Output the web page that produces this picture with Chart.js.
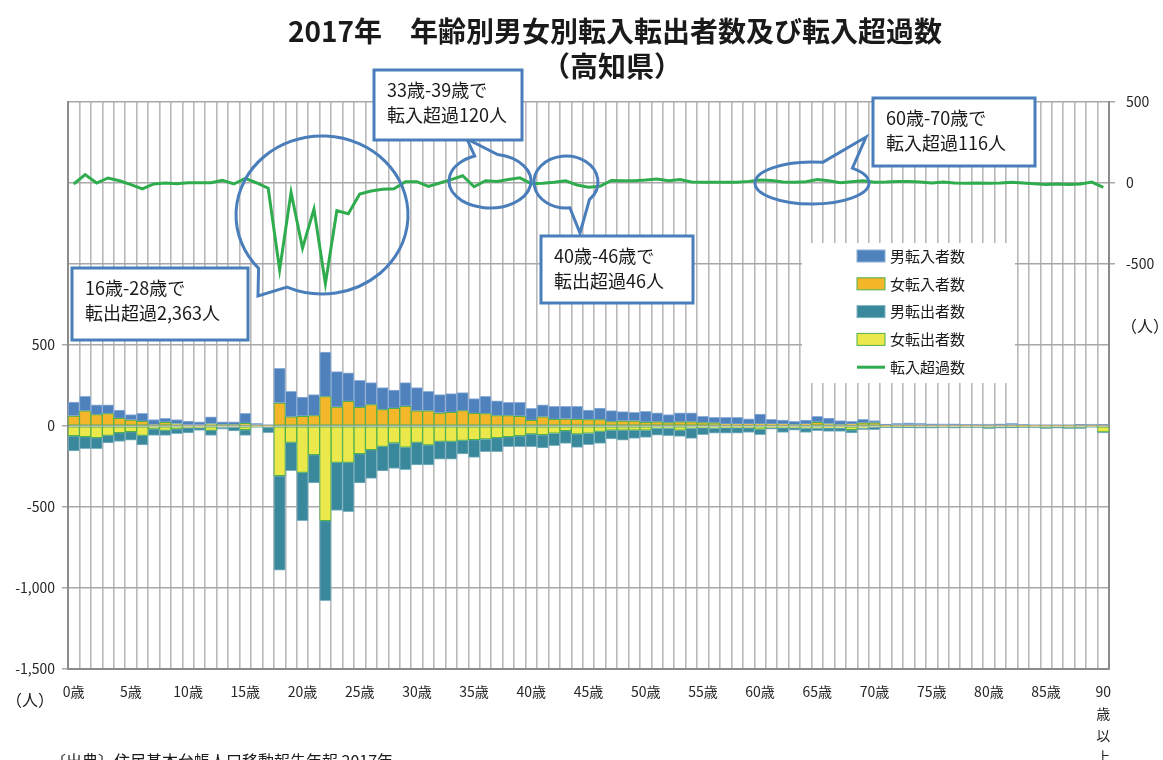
<!DOCTYPE html>
<html lang="ja">
<head>
<meta charset="utf-8">
<title>2017年 年齢別男女別転入転出者数及び転入超過数（高知県）</title>
<script src="https://cdn.jsdelivr.net/npm/chart.js@4.4.1/dist/chart.umd.min.js"></script>
<style>
  html, body { margin: 0; padding: 0; background: #fff; }
  #wrap { position: relative; width: 1163px; height: 760px; }
</style>
</head>
<body>
<div id="wrap"><canvas id="migrationChart" width="1163" height="760"></canvas></div>
<script>
// age categories 0..90 (90 = 90歳以上)
const ageLabels = [
  '0歳','1歳','2歳','3歳','4歳','5歳','6歳','7歳','8歳','9歳',
  '10歳','11歳','12歳','13歳','14歳','15歳','16歳','17歳','18歳','19歳',
  '20歳','21歳','22歳','23歳','24歳','25歳','26歳','27歳','28歳','29歳',
  '30歳','31歳','32歳','33歳','34歳','35歳','36歳','37歳','38歳','39歳',
  '40歳','41歳','42歳','43歳','44歳','45歳','46歳','47歳','48歳','49歳',
  '50歳','51歳','52歳','53歳','54歳','55歳','56歳','57歳','58歳','59歳',
  '60歳','61歳','62歳','63歳','64歳','65歳','66歳','67歳','68歳','69歳',
  '70歳','71歳','72歳','73歳','74歳','75歳','76歳','77歳','78歳','79歳',
  '80歳','81歳','82歳','83歳','84歳','85歳','86歳','87歳','88歳','89歳',
  '90歳以上'
];

// labels shown under the axis (every 5 years)
const ageTickLabels = ['0歳','5歳','10歳','15歳','20歳','25歳','30歳','35歳','40歳',
  '45歳','50歳','55歳','60歳','65歳','70歳','75歳','80歳','85歳',['90','歳','以','上']];

// 男転入者数
const maleIn = [86,90,60,54,52,33,49,31,24,25,
  25,19,42,17,17,62,10,5,214,158,
  119,130,276,219,176,167,136,136,113,146,
  144,121,114,116,111,91,107,91,82,86,
  74,74,81,79,81,60,72,68,58,53,
  68,57,49,57,57,39,35,42,42,33,
  62,29,25,21,25,37,35,25,17,22,
  14,8,10,14,12,8,10,8,6,6,
  6,8,10,6,4,4,4,4,4,6,
  4];

// 女転入者数
const femaleIn = [62,93,70,76,47,37,29,8,23,14,
  6,6,14,8,8,16,6,3,142,56,
  60,64,181,117,152,115,132,101,109,122,
  93,93,80,84,95,78,76,64,64,60,
  35,56,41,43,41,39,39,27,31,31,
  23,25,21,25,25,21,19,12,12,12,
  12,12,12,8,12,23,14,8,12,19,
  19,4,6,6,6,6,4,6,4,6,
  6,6,6,4,4,4,4,4,6,6,
  6];

// 男転出者数
const maleOut = [94,74,68,47,54,52,59,40,31,29,
  33,17,31,13,25,35,4,35,583,175,
  299,175,494,296,304,181,177,152,157,140,
  140,124,109,109,84,110,79,87,62,68,
  79,82,77,78,83,70,74,55,62,51,
  45,42,46,39,62,44,31,35,35,29,
  35,9,29,15,25,15,21,21,20,11,
  17,6,8,8,8,8,6,8,6,6,
  8,8,8,6,6,8,8,8,8,4,
  6];

// 女転出者数
const femaleOut = [60,66,72,58,41,35,58,18,27,18,
  10,10,27,6,6,23,4,6,307,101,
  286,177,584,225,225,171,146,126,105,130,
  101,117,95,95,89,84,80,72,66,60,
  49,54,45,29,49,45,33,25,25,25,
  25,14,14,25,14,10,14,10,10,10,
  19,10,10,10,14,14,12,12,23,12,
  6,4,4,4,6,6,6,6,6,6,
  8,6,4,4,6,8,6,8,8,4,
  37];

// 転入超過数
const netMigration = [-6,52,0,31,14,-10,-37,-6,0,-4,
  2,2,2,16,-6,29,0,-32,-535,-58,
  -402,-161,-622,-171,-190,-68,-49,-39,-36,8,
  8,-21,0,21,45,-23,14,10,21,32,
  -4,-2,4,14,-12,-26,-20,16,14,14,
  18,25,14,22,6,4,4,4,4,10,
  18,16,6,4,8,22,14,2,8,14,
  4,6,10,10,6,0,6,0,-2,0,
  -2,0,4,0,-4,-10,-6,-10,-6,6,
  -27];

const JP = "'Noto Sans CJK JP', 'Noto Sans', sans-serif";
const BLUE = '#4f81bd';
const ORANGE = '#f4b72a';
const TEAL = '#3a889b';
const YELLOW = '#ebe84c';
const GREEN = '#2fad4e';
const CALLOUT = '#4a7ebb';

Chart.defaults.font.family = JP;
Chart.defaults.font.size = 14;
Chart.defaults.color = '#262626';

// legend entries in the order of the original chart
const legendItems = [
  { label: '男転入者数', color: BLUE, border: '#8fb0d8', type: 'bar' },
  { label: '女転入者数', color: ORANGE, border: '#4fb04a', type: 'bar' },
  { label: '男転出者数', color: TEAL, border: '#7fb3c0', type: 'bar' },
  { label: '女転出者数', color: YELLOW, border: '#4fb04a', type: 'bar' },
  { label: '転入超過数', color: GREEN, type: 'line' }
];

// speech bubble callouts: ellipse + wedge, and text box
const callouts = [
  { cx: 322, cy: 215, rx: 86, ry: 79, a1: 2.40, a2: 1.99, tip: [258, 296],
    box: [72, 268, 176, 72], lines: ['16歳-28歳で', '転出超過2,363人'] },
  { cx: 490, cy: 181, rx: 41, ry: 27, a1: 4.90, a2: 4.33, tip: [467, 139],
    box: [374, 70, 148, 70], lines: ['33歳-39歳で', '転入超過120人'] },
  { cx: 566, cy: 182, rx: 32, ry: 26, a1: 1.45, a2: 0.75, tip: [580, 233],
    box: [541, 236, 152, 67], lines: ['40歳-46歳で', '転出超過46人'] },
  { cx: 812, cy: 183, rx: 57, ry: 21, a1: 5.50, a2: 4.90, tip: [866, 137],
    box: [873, 98, 162, 68], lines: ['60歳-70歳で', '転入超過116人'] }
];

const overlayPlugin = {
  id: 'overlay',
  afterDraw(chart) {
    const ctx = chart.ctx;
    ctx.save();

    // title
    ctx.fillStyle = '#1a1a1a';
    ctx.textAlign = 'center';
    ctx.textBaseline = 'middle';
    ctx.font = 'bold 28px ' + JP;
    ctx.fillText('2017年　年齢別男女別転入転出者数及び転入超過数', 615, 31);
    ctx.fillText('（高知県）', 612, 66);

    // callouts
    callouts.forEach(c => {
      ctx.beginPath();
      ctx.ellipse(c.cx, c.cy, c.rx, c.ry, 0, c.a1, c.a2 + Math.PI * 2);
      ctx.lineTo(c.tip[0], c.tip[1]);
      ctx.closePath();
      ctx.lineWidth = 3;
      ctx.strokeStyle = CALLOUT;
      ctx.stroke();

      const [bx, by, bw, bh] = c.box;
      ctx.fillStyle = '#fff';
      ctx.fillRect(bx, by, bw, bh);
      ctx.strokeRect(bx, by, bw, bh);
      ctx.fillStyle = '#1a1a1a';
      ctx.textAlign = 'left';
      ctx.textBaseline = 'middle';
      ctx.font = '18px ' + JP;
      ctx.fillText(c.lines[0], bx + 13, by + 20);
      ctx.fillText(c.lines[1], bx + 13, by + 45);
    });

    // legend
    ctx.fillStyle = '#fff';
    ctx.fillRect(802, 243, 213, 140);
    ctx.font = '15px ' + JP;
    ctx.textAlign = 'left';
    ctx.textBaseline = 'middle';
    legendItems.forEach((item, i) => {
      const y = 256 + i * 27.8;
      if (item.type === 'bar') {
        ctx.fillStyle = item.color;
        ctx.fillRect(857, y - 6, 28, 12);
        ctx.lineWidth = 1;
        ctx.strokeStyle = item.border;
        ctx.strokeRect(857, y - 6, 28, 12);
      } else {
        ctx.beginPath();
        ctx.moveTo(857, y);
        ctx.lineTo(885, y);
        ctx.lineWidth = 3;
        ctx.strokeStyle = item.color;
        ctx.stroke();
      }
      ctx.fillStyle = '#1a1a1a';
      ctx.fillText(item.label, 890, y);
    });

    // units and source
    ctx.font = '16px ' + JP;
    ctx.fillText('（人）', 6, 700);
    ctx.fillText('（人）', 1121, 326);
    ctx.textBaseline = 'top';
    ctx.fillText('〔出典〕住民基本台帳人口移動報告年報 2017年', 50, 753);

    ctx.restore();
  }
};

const ctx = document.getElementById('migrationChart').getContext('2d');
const migrationChart = new Chart(ctx, {
  data: {
    labels: ageLabels,
    datasets: [
      // stacking order: female first so they sit next to zero
      { type: 'bar', label: '女転入者数', data: femaleIn, backgroundColor: ORANGE,
        borderColor: '#4fb04a', borderWidth: 1, borderSkipped: false },
      { type: 'bar', label: '男転入者数', data: maleIn, backgroundColor: BLUE,
        borderColor: '#8fb0d8', borderWidth: 1, borderSkipped: false },
      { type: 'bar', label: '女転出者数', data: femaleOut.map(v => -v), backgroundColor: YELLOW,
        borderColor: '#4fb04a', borderWidth: 1, borderSkipped: false },
      { type: 'bar', label: '男転出者数', data: maleOut.map(v => -v), backgroundColor: TEAL,
        borderColor: '#7fb3c0', borderWidth: 1, borderSkipped: false },
      { type: 'line', label: '転入超過数', data: netMigration, yAxisID: 'y2',
        borderColor: GREEN, borderWidth: 3, pointRadius: 0, tension: 0, fill: false }
    ]
  },
  options: {
    responsive: false,
    animation: false,
    layout: { padding: { top: 102, left: 0, right: 0, bottom: 0 } },
    datasets: { bar: { barPercentage: 1, categoryPercentage: 1 } },
    plugins: {
      legend: { display: false },
      title: { display: false },
      tooltip: { enabled: false }
    },
    scales: {
      x: {
        stacked: true,
        grid: { offset: true, color: '#b9b9b9', lineWidth: 1.6, drawTicks: false },
        border: { color: '#8c8c8c', width: 2 },
        ticks: {
          autoSkip: false, maxRotation: 0, minRotation: 0, padding: 12,
          font: { size: 14, lineHeight: 1.55 },
          callback: (v, i) => (i % 5 === 0 ? ageTickLabels[i / 5] : '')
        },
        afterFit: s => { s.height = 91; }
      },
      y: {
        position: 'left',
        stacked: true,
        min: -1500,
        max: 2000,
        grid: { color: '#a8a8a8', lineWidth: 1.5, tickLength: 6 },
        border: { color: '#8c8c8c', width: 2 },
        ticks: {
          stepSize: 500, padding: 7,
          callback: v => (v > 500 ? null : v.toLocaleString('en-US'))
        },
        afterFit: s => { s.width = 68; }
      },
      y2: {
        position: 'right',
        min: -3000,
        max: 500,
        grid: { color: '#a8a8a8', lineWidth: 1.5, tickLength: 6 },
        border: { color: '#8c8c8c', width: 2 },
        ticks: {
          stepSize: 500, padding: 11,
          callback: v => (v < -500 ? null : v.toLocaleString('en-US'))
        },
        afterFit: s => { s.width = 54; }
      }
    }
  },
  plugins: [overlayPlugin]
});
</script>
</body>
</html>
